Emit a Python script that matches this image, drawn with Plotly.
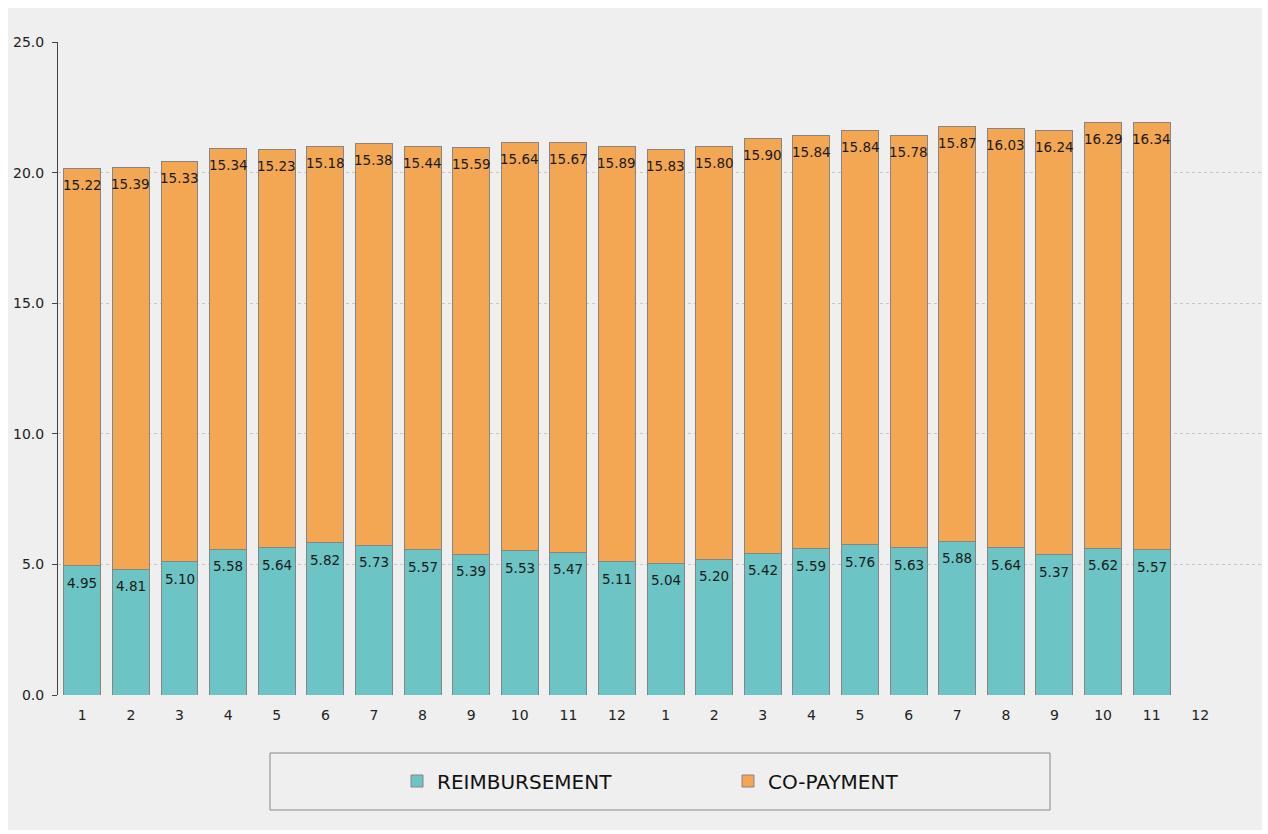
import plotly.graph_objects as go

months = ["1","2","3","4","5","6","7","8","9","10","11","12",
          "1","2","3","4","5","6","7","8","9","10","11","12"]
reimbursement = [4.95, 4.81, 5.10, 5.58, 5.64, 5.82, 5.73, 5.57, 5.39, 5.53, 5.47, 5.11,
                 5.04, 5.20, 5.42, 5.59, 5.76, 5.63, 5.88, 5.64, 5.37, 5.62, 5.57, None]
copayment = [15.22, 15.39, 15.33, 15.34, 15.23, 15.18, 15.38, 15.44, 15.59, 15.64, 15.67, 15.89,
             15.83, 15.80, 15.90, 15.84, 15.84, 15.78, 15.87, 16.03, 16.24, 16.29, 16.34, None]

xpos = list(range(len(months)))
FONT = "DejaVu Sans"

fig = go.Figure()
fig.add_trace(go.Bar(
    x=xpos, y=reimbursement, name="REIMBURSEMENT",
    marker=dict(color="#6CC4C5", line=dict(color="#858585", width=1)),
))
fig.add_trace(go.Bar(
    x=xpos, y=copayment, name="CO-PAYMENT",
    marker=dict(color="#F4A752", line=dict(color="#858585", width=1)),
))

# value labels placed just inside the top of each segment
annotations = []
for i, (r, c) in enumerate(zip(reimbursement, copayment)):
    if r is not None:
        annotations.append(dict(x=xpos[i], y=r, xref="x", yref="y", text=f"{r:.2f}",
                                showarrow=False, yanchor="middle", yshift=-17,
                                font=dict(family=FONT, size=13.5, color="#1a1a1a")))
    if c is not None:
        annotations.append(dict(x=xpos[i], y=(r or 0) + c, xref="x", yref="y", text=f"{c:.2f}",
                                showarrow=False, yanchor="middle", yshift=-16.5,
                                font=dict(family=FONT, size=13.5, color="#1a1a1a")))

L, R, T, B = 58, 6, 42, 139
W, H = 1268, 834
pw, ph = W - L - R, H - T - B

def px(x):
    return (x - L) / pw

def py(y):
    return (H - B - y) / ph

fig.update_layout(
    width=W, height=H,
    margin=dict(l=L, r=R, t=T, b=B, pad=0),
    barmode="stack", bargap=0.24,
    paper_bgcolor="white", plot_bgcolor="rgba(0,0,0,0)",
    font=dict(family=FONT, size=14, color="#222"),
    showlegend=True,
    legend=dict(orientation="h", x=px(397), xanchor="left", y=py(781), yanchor="middle",
                font=dict(family=FONT, size=20, color="#111"),
                entrywidth=286, entrywidthmode="pixels",
                bgcolor="rgba(0,0,0,0)", traceorder="normal"),
    annotations=annotations,
    shapes=[
        dict(type="rect", xref="paper", yref="paper", layer="below",
             x0=px(8), x1=px(1262), y0=py(830), y1=py(8),
             fillcolor="#EFEFEF", line=dict(width=0)),
        dict(type="rect", xref="paper", yref="paper", layer="below",
             x0=px(270), x1=px(1050), y0=py(810), y1=py(753),
             fillcolor="rgba(0,0,0,0)", line=dict(color="#888888", width=1)),
    ],
    xaxis=dict(
        range=[-0.5, 24.27], tickmode="array", tickvals=xpos, ticktext=months,
        showgrid=False, zeroline=False, showline=False, ticks="",
        tickfont=dict(family=FONT, size=14, color="#222"), ticklabelstandoff=10,
    ),
    yaxis=dict(
        range=[0, 25], tickmode="linear", tick0=0, dtick=5, tickformat=".1f",
        showgrid=True, gridcolor="#C8C8C8", griddash="dot", gridwidth=1,
        zeroline=False, showline=True, linecolor="#444", linewidth=1,
        ticks="outside", ticklen=5, tickcolor="#444", ticklabelstandoff=5,
        tickfont=dict(family=FONT, size=14, color="#222"),
    ),
)

fig.write_html("out.html")
